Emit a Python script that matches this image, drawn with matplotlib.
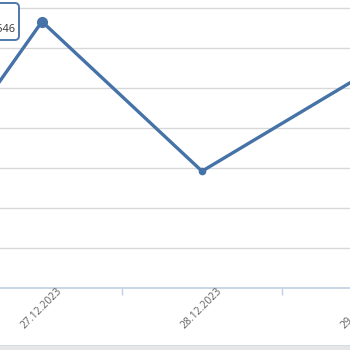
import matplotlib
matplotlib.use("Agg")
import matplotlib.pyplot as plt
import matplotlib.transforms as mtransforms
from matplotlib.patches import FancyBboxPatch, Rectangle
import numpy as np

# Data
categories = ["26.12.2023", "27.12.2023", "28.12.2023", "29.12.2023"]
values = [981, 1546, 1172, 1411]
tooltip_text = "1546"

W = H = 350
fig = plt.figure(figsize=(3.5, 3.5), dpi=100)
fig.patch.set_facecolor("white")

# axes spanning full width, bottom at y=288px
ax_bottom = (H - 288) / H
ax = fig.add_axes([0, ax_bottom, 1, 1 - ax_bottom])
ax.set_facecolor("white")

x = np.arange(len(categories))

# gridlines
for g in np.arange(980, 1600, 100):
    ax.axhline(g, color="#d8d8d8", lw=1.0, zorder=1)

for s in ["top", "right", "left"]:
    ax.spines[s].set_visible(False)
ax.spines["bottom"].set_color("#c0d0e0")
ax.spines["bottom"].set_linewidth(1.2)
ax.set_yticks([])

# tick marks between categories
ax.set_xticks(x[:-1] + 0.5)
ax.tick_params(axis="x", length=5, color="#c0d0e0", width=1, labelbottom=False)

line_color = "#4572A7"
ax.plot(x, values, color=line_color, lw=2.4, zorder=3, solid_capstyle="round")
# normal marker
ax.plot(x[2], values[2], "o", color=line_color, ms=4.5, zorder=4)
# hovered marker
ax.plot(x[1], values[1], "o", color=line_color, ms=7, zorder=4)

ax.set_xlim(1 - 42 / 160, 1 + 308 / 160)
ax.set_ylim(880, 880 + 288 / 40 * 100)

# rotated category labels
for xi, lab in zip(x, categories):
    trans = ax.get_xaxis_transform() + mtransforms.ScaledTranslation(
        18 / 100, -1.5 / 100, fig.dpi_scale_trans)
    ax.text(xi, 0, lab, transform=trans, rotation=45, ha="right", va="center",
            rotation_mode="anchor", fontsize=7.5, color="#606060",
            family=["Open Sans", "DejaVu Sans"], clip_on=False)

# tooltip
box = FancyBboxPatch(((-30) / W, (H - 40) / H), 49 / W, 37 / H,
                     boxstyle="round,pad=0,rounding_size=0.012",
                     transform=fig.transFigure, facecolor="white",
                     edgecolor=line_color, lw=1.4, alpha=0.95, zorder=10)
fig.patches.append(box)
fig.text(15.5 / W, (H - 30) / H, tooltip_text, ha="right", va="center",
         fontsize=7.8, color="#333333", family=["Open Sans", "DejaVu Sans"],
         zorder=11)

# bottom band
fig.patches.append(Rectangle((0, 0), 1, 4 / H, transform=fig.transFigure,
                             facecolor="#e6e6e6", edgecolor="none"))
fig.patches.append(Rectangle((0, 4 / H), 1, 1 / H, transform=fig.transFigure,
                             facecolor="#d4dbe3", edgecolor="none"))

fig.savefig("out.png", dpi=100)
